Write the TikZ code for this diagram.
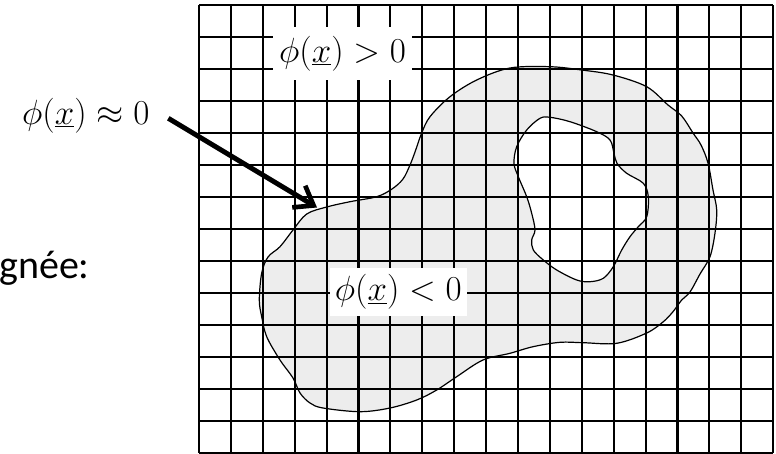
\RequirePackage{fix-cm}
\documentclass[tikz,border=0pt]{standalone}
\usepackage{fontspec}
\newfontfamily\calib{Carlito}
\usetikzlibrary{arrows.meta}
\definecolor{blobgray}{HTML}{EDEDED}
\tikzset{
  gridline/.style={line width=1.6pt, black},
  blobline/.style={line width=0.9pt, black},
  mathlabel/.style={font=\fontsize{26.25}{30}\selectfont, inner sep=0pt},
  boxlabel/.style={mathlabel, fill=white},
  bigarrow/.style={line width=3.7pt, -{Straight Barb[length=13pt,width=19pt,line width=3.5pt]}}
}
\begin{document}
\begin{tikzpicture}[x=0.75pt,y=-0.75pt]
\useasboundingbox (0,0) rectangle (776,454);
% shaded region with hole
\fill[blobgray, even odd rule]
  plot[smooth cycle, tension=0.55] coordinates {
   (259.3,300) (261.7,273) (268,257) (280,246.7) (293,230) (306.7,214) (326.7,207)
   (350,201.7) (376.7,196.7) (392,189) (403,179) (410,165) (415,152) (421.7,133)
   (430,116.7) (450,96.7) (476.7,80) (510,68) (550,66.7) (581.7,70) (613,75)
   (646.7,86.7) (668,105) (681.7,116) (693,133) (701,145) (708,163) (713,190)
   (716.7,210) (715,233) (710,256.7) (700,274) (690,292) (681.7,300) (673,311.7)
   (663,322) (646.7,333) (616.7,343.3) (583,342.7) (560,342.3) (533,346.7)
   (510,353.3) (483,360) (456.7,376.7) (436.7,390) (416.7,400) (390,408)
   (360,411.7) (323,408) (310,403) (300,393) (293,378) (280,360) (266.7,336.7)
   (261.7,316.7)}
  plot[smooth cycle, tension=0.55] coordinates {
   (540,118.3) (550,117.3) (570,121.7) (596.7,131.7) (610,140) (614,153.3)
   (617,163.3) (626.7,173.3) (643.3,183.3) (648.3,196.7) (646.7,216.7)
   (638.3,226.7) (630,236.7) (621.7,250) (613.3,266.7) (603.3,278.3) (590,281.7)
   (576.7,280) (556.7,270) (543.3,260) (533.3,250) (531.7,240) (535,230)
   (531.7,213.3) (526.7,196.7) (518.3,176.7) (514,163.3) (516.7,146.7) (526.7,130)};
% grid
\foreach \i in {0,...,18} {
  \draw[gridline] ({199+\i*31.9},5) -- ({199+\i*31.9},453);
}
\foreach \j in {0,...,14} {
  \draw[gridline] (199,{5+\j*32}) -- (773.2,{5+\j*32});
}
% outlines
\draw[blobline]
  plot[smooth cycle, tension=0.55] coordinates {
   (259.3,300) (261.7,273) (268,257) (280,246.7) (293,230) (306.7,214) (326.7,207)
   (350,201.7) (376.7,196.7) (392,189) (403,179) (410,165) (415,152) (421.7,133)
   (430,116.7) (450,96.7) (476.7,80) (510,68) (550,66.7) (581.7,70) (613,75)
   (646.7,86.7) (668,105) (681.7,116) (693,133) (701,145) (708,163) (713,190)
   (716.7,210) (715,233) (710,256.7) (700,274) (690,292) (681.7,300) (673,311.7)
   (663,322) (646.7,333) (616.7,343.3) (583,342.7) (560,342.3) (533,346.7)
   (510,353.3) (483,360) (456.7,376.7) (436.7,390) (416.7,400) (390,408)
   (360,411.7) (323,408) (310,403) (300,393) (293,378) (280,360) (266.7,336.7)
   (261.7,316.7)};
\draw[blobline]
  plot[smooth cycle, tension=0.55] coordinates {
   (540,118.3) (550,117.3) (570,121.7) (596.7,131.7) (610,140) (614,153.3)
   (617,163.3) (626.7,173.3) (643.3,183.3) (648.3,196.7) (646.7,216.7)
   (638.3,226.7) (630,236.7) (621.7,250) (613.3,266.7) (603.3,278.3) (590,281.7)
   (576.7,280) (556.7,270) (543.3,260) (533.3,250) (531.7,240) (535,230)
   (531.7,213.3) (526.7,196.7) (518.3,176.7) (514,163.3) (516.7,146.7) (526.7,130)};
% labels
\node[boxlabel, minimum width=104pt, minimum height=40pt] (pos) at (342.5,53.5) {$\phi(\underline{x}) > 0$};
\node[boxlabel, minimum width=102.5pt, minimum height=35.8pt] (neg) at (398.3,292.2) {$\phi(\underline{x}) < 0$};
\node[mathlabel] (zero) at (85.8,116) {$\phi(\underline{x}) \approx 0$};
\node[anchor=base west, inner sep=0pt, font=\calib\fontsize{30}{36}\selectfont] (side) at (-1,278) {gnée:};
% arrow
\coordinate (tail) at (168.3,118.3);
\coordinate (tip) at (317,207.5);
\draw[bigarrow] (tail) -- (tip);
\end{tikzpicture}
\end{document}
